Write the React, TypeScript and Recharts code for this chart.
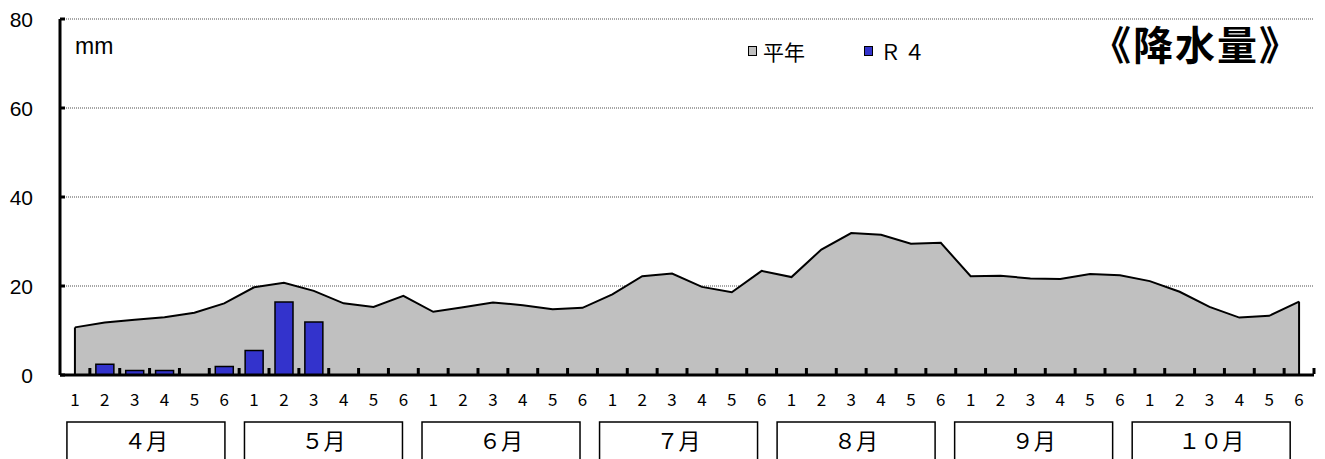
import { Area, Bar, CartesianGrid, ComposedChart, XAxis, YAxis } from "recharts";

const months = ["４月", "５月", "６月", "７月", "８月", "９月", "１０月"];
const periods = ["1", "2", "3", "4", "5", "6"];

// 平年
const normalValues = [
  10.7, 11.8, 12.4, 13.0, 14.0, 16.1,
  19.7, 20.7, 18.9, 16.1, 15.3, 17.8,
  14.2, 15.2, 16.3, 15.7, 14.8, 15.1,
  18.1, 22.2, 22.8, 19.8, 18.6, 23.4,
  22.0, 28.2, 31.9, 31.5, 29.5, 29.7,
  22.2, 22.3, 21.7, 21.6, 22.7, 22.4,
  21.1, 18.7, 15.3, 12.9, 13.3, 16.5,
];

// R4
const r4Values: (number | null)[] = [
  null, 2.4, 1.0, 1.0, 0, 1.9,
  5.5, 16.4, 11.9, null, null, null,
  null, null, null, null, null, null,
  null, null, null, null, null, null,
  null, null, null, null, null, null,
  null, null, null, null, null, null,
  null, null, null, null, null, null,
];

const yTicks = [0, 20, 40, 60, 80];

const data = months.flatMap((month, mi) =>
  periods.map((period, pi) => ({
    key: `${mi}-${pi}`,
    month,
    monthIndex: mi,
    period,
    normal: normalValues[mi * 6 + pi],
    r4: r4Values[mi * 6 + pi],
  }))
);

const WIDTH = 1325;
const HEIGHT = 459;
const MARGIN = { top: 19, right: 11, left: 10, bottom: 0 };
const YAXIS_W = 50;
const XAXIS_H = 84;
const BAND = (WIDTH - MARGIN.left - MARGIN.right - YAXIS_W) / data.length;
const BASE_Y = HEIGHT - MARGIN.bottom - XAXIS_H;
const BOX_W = 158;

const jpFont = "'Noto Sans CJK JP', sans-serif";
const numFont = "'Liberation Sans', Arial, sans-serif";

const XTick = (props: any) => {
  const { x, y, index } = props;
  const item = data[index];
  if (!item) return null;
  const first = index % 6 === 0;
  const boxX = x - 8 - item.monthIndex * 1.6;
  return (
    <g>
      <line x1={x + BAND / 2} y1={y - 1} x2={x + BAND / 2} y2={y - 7} stroke="#000" strokeWidth={3} />
      <text x={x} y={y + 31} textAnchor="middle" fontSize={17} fontFamily={jpFont} fill="#000">
        {item.period}
      </text>
      {first && (
        <g>
          <rect x={boxX} y={y + 47} width={BOX_W} height={50} fill="#fff" stroke="#000" strokeWidth={1.5} />
          <text
            x={boxX + BOX_W / 2}
            y={y + 74}
            textAnchor="middle"
            fontSize={22}
            fontFamily={jpFont}
            fill="#000"
          >
            {item.month}
          </text>
        </g>
      )}
    </g>
  );
};

const YTick = (props: any) => {
  const { x, y, payload } = props;
  return (
    <g>
      <line x1={x} y1={y} x2={x + 5} y2={y} stroke="#000" strokeWidth={3} />
      <text x={x - 27} y={y + 7.5} textAnchor="end" fontSize={21} fontFamily={numFont} fill="#000">
        {payload.value}
      </text>
    </g>
  );
};

// Excel の面グラフのように両端を縦線で閉じる
const EdgeDot = (props: any) => {
  const { cx, cy, index } = props;
  if (index !== 0 && index !== data.length - 1) return <g key={index} />;
  return <line key={index} x1={cx} y1={cy} x2={cx} y2={BASE_Y} stroke="#000" strokeWidth={2} />;
};

export default function App() {
  return (
    <div style={{ position: "absolute", left: 0, top: 0, width: WIDTH, height: HEIGHT, background: "#fff" }}>
      <ComposedChart width={WIDTH} height={HEIGHT} data={data} margin={MARGIN} barCategoryGap={0}>
        <CartesianGrid vertical={false} stroke="#000" strokeDasharray="1 1" strokeWidth={0.7} />
        <XAxis
          dataKey="key"
          interval={0}
          height={XAXIS_H}
          tickSize={0}
          tickMargin={0}
          tickLine={false}
          axisLine={{ stroke: "#000", strokeWidth: 3 }}
          tick={<XTick />}
        />
        <YAxis
          domain={[0, 80]}
          ticks={yTicks}
          width={YAXIS_W}
          tickSize={0}
          tickMargin={0}
          tickLine={false}
          axisLine={{ stroke: "#000", strokeWidth: 3 }}
          tick={<YTick />}
        />
        <Area
          dataKey="normal"
          type="linear"
          fill="#c0c0c0"
          fillOpacity={1}
          stroke="#000"
          strokeWidth={2}
          dot={<EdgeDot />}
          activeDot={false}
          isAnimationActive={false}
        />
        <Bar dataKey="r4" barSize={18} fill="#3333cc" stroke="#000" strokeWidth={1.5} isAnimationActive={false} />
      </ComposedChart>

      <div style={{ position: "absolute", left: 75, top: 35, fontFamily: numFont, fontSize: 23, lineHeight: 1 }}>mm</div>

      <div
        style={{
          position: "absolute",
          left: 748,
          top: 40,
          height: 22,
          display: "flex",
          alignItems: "center",
          fontFamily: jpFont,
          fontSize: 21,
          lineHeight: 1,
        }}
      >
        <span style={{ width: 7, height: 8, background: "#c0c0c0", border: "1px solid #000", marginRight: 6 }} />
        <span>平年</span>
        <span
          style={{ width: 7, height: 8, background: "#3333cc", border: "1px solid #000", marginLeft: 59, marginRight: 7 }}
        />
        <span style={{ letterSpacing: 3 }}>Ｒ４</span>
      </div>

      <div
        style={{
          position: "absolute",
          left: 1091,
          top: 21,
          fontFamily: jpFont,
          fontSize: 40,
          fontWeight: 700,
          letterSpacing: 2,
          lineHeight: "44px",
        }}
      >
        《降水量》
      </div>
    </div>
  );
}
